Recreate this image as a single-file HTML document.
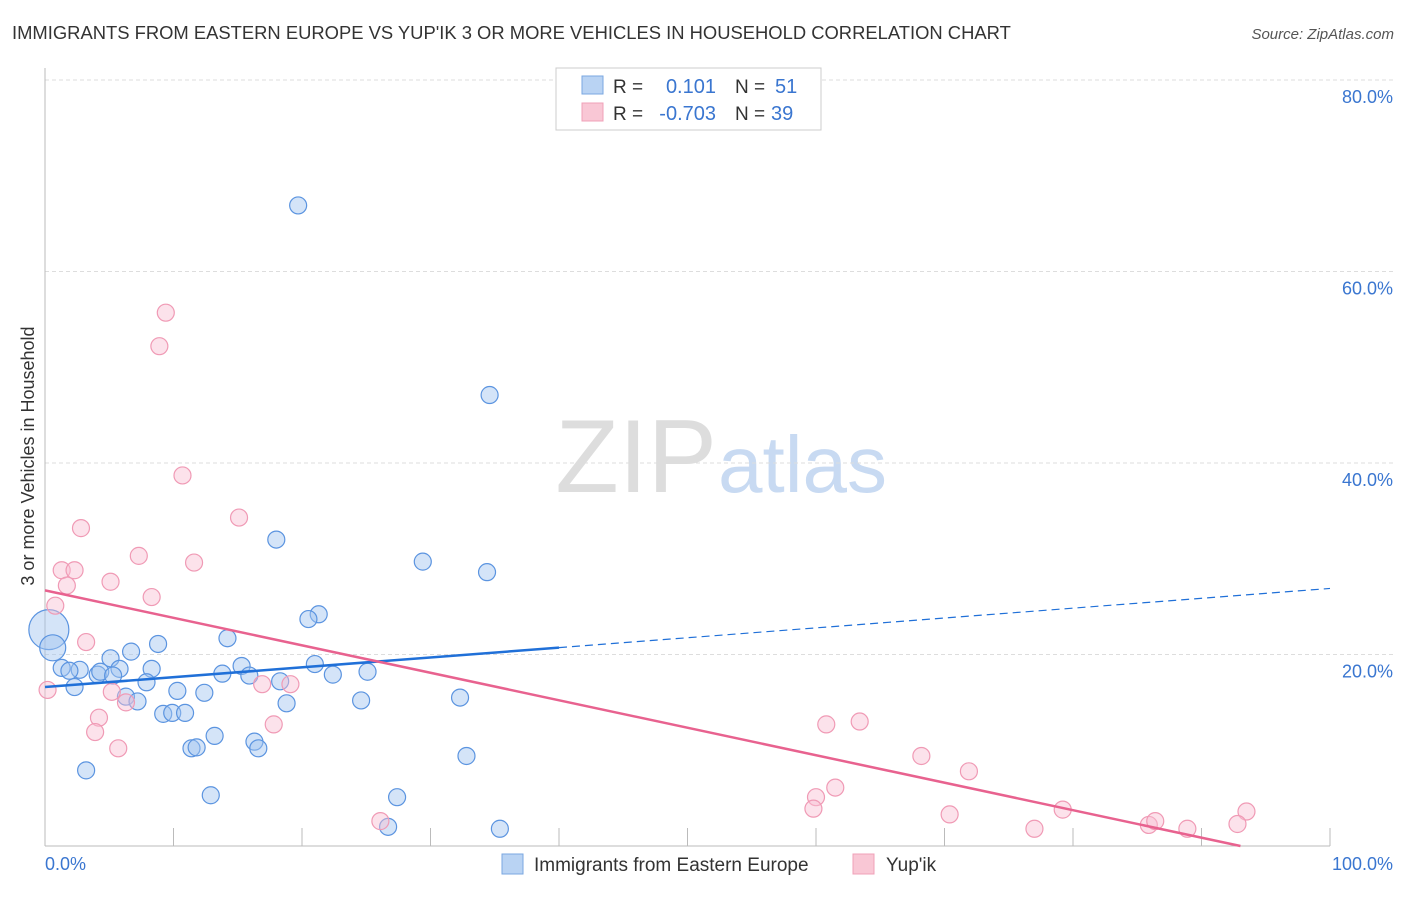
<!DOCTYPE html>
<html><head><meta charset="utf-8"><style>
body{margin:0;background:#fff;font-family:"Liberation Sans",sans-serif;}
svg text{font-family:"Liberation Sans",sans-serif;}
</style></head><body>
<svg id="chart" width="1406" height="892">
<text x="12" y="39" font-size="18.4" fill="#333">IMMIGRANTS FROM EASTERN EUROPE VS YUP'IK 3 OR MORE VEHICLES IN HOUSEHOLD CORRELATION CHART</text>
<text x="1394" y="39" font-size="15" fill="#555" font-style="italic" text-anchor="end">Source: ZipAtlas.com</text>
<text x="717" y="492" font-size="104" fill="#ddd" text-anchor="end" font-family="Liberation Serif">ZIP</text>
<text x="718" y="492" font-size="80" fill="#c8daf2">atlas</text>
<text transform="translate(34,456) rotate(-90)" font-size="18" fill="#333" text-anchor="middle">3 or more Vehicles in Household</text>
<g id="grid"></g><g id="marks"></g><g id="lines"></g>
<g>
<rect x="556" y="68" width="265" height="62" fill="#fff" stroke="#ccc"/>
<rect x="582" y="76" width="21" height="18" fill="#b9d3f3" stroke="#7aa7e0"/>
<rect x="582" y="103" width="21" height="18" fill="#f9c7d5" stroke="#f0a0b8"/>
<text x="613" y="93" font-size="19" fill="#333">R =</text><text x="716" y="93" font-size="20" fill="#3a76d0" text-anchor="end">0.101</text>
<text x="735" y="93" font-size="19" fill="#333">N =</text><text x="775" y="93" font-size="20" fill="#3a76d0">51</text>
<text x="613" y="120" font-size="19" fill="#333">R =</text><text x="716" y="120" font-size="20" fill="#3a76d0" text-anchor="end">-0.703</text>
<text x="735" y="120" font-size="19" fill="#333">N =</text><text x="771" y="120" font-size="20" fill="#3a76d0">39</text>
</g>
<g>
<rect x="502" y="854" width="21" height="20" fill="#b9d3f3" stroke="#7aa7e0"/>
<text x="534" y="871" font-size="19" fill="#333">Immigrants from Eastern Europe</text>
<rect x="853" y="854" width="21" height="20" fill="#f9c7d5" stroke="#f0a0b8"/>
<text x="886" y="871" font-size="19" fill="#333">Yup'ik</text>
</g>
</svg>
<script>
const yTicks=[20,40,60,80];
const yTickLabels=["20.0%","40.0%","60.0%","80.0%"];
const xTickLabels=["0.0%","100.0%"];
const blueX=[19.7,34.6,18.0,29.4,34.4,21.3,20.5,14.2,8.8,6.7,5.1,15.3,8.3,5.8,1.3,2.7,4.1,1.9,15.9,13.8,21.0,25.1,22.4,7.9,18.3,2.3,10.3,12.4,6.3,7.2,18.8,24.6,32.3,9.2,9.9,10.9,13.2,16.3,11.4,11.8,16.6,32.8,3.2,12.9,27.4,26.7,35.4,0.3,0.6,4.3,5.3];
const blueY=[66.9,47.1,32.0,29.7,28.6,24.2,23.7,21.7,21.1,20.3,19.6,18.8,18.5,18.5,18.6,18.4,17.9,18.3,17.8,18.0,19.0,18.2,17.9,17.1,17.2,16.6,16.2,16.0,15.6,15.1,14.9,15.2,15.5,13.8,13.9,13.9,11.5,10.9,10.2,10.3,10.2,9.4,7.9,5.3,5.1,2.0,1.8,22.6,20.7,18.2,17.8];
const blueR=[8.5,8.5,8.5,8.5,8.5,8.5,8.5,8.5,8.5,8.5,8.5,8.5,8.5,8.5,8.5,8.5,8.5,8.5,8.5,8.5,8.5,8.5,8.5,8.5,8.5,8.5,8.5,8.5,8.5,8.5,8.5,8.5,8.5,8.5,8.5,8.5,8.5,8.5,8.5,8.5,8.5,8.5,8.5,8.5,8.5,8.5,8.5,20,13,8.5,8.5];
const pinkX=[9.4,8.9,10.7,15.1,2.8,7.3,11.6,1.3,2.3,5.1,1.7,8.3,0.8,3.2,0.2,5.2,19.1,16.9,6.3,4.2,17.8,3.9,5.7,60.8,63.4,68.2,71.9,61.5,60.0,59.8,26.1,70.4,79.2,77.0,85.9,86.4,88.9,93.5,92.8];
const pinkY=[55.7,52.2,38.7,34.3,33.2,30.3,29.6,28.8,28.8,27.6,27.2,26.0,25.1,21.3,16.3,16.1,16.9,16.9,15.0,13.4,12.7,11.9,10.2,12.7,13.0,9.4,7.8,6.1,5.1,3.9,2.6,3.3,3.8,1.8,2.2,2.6,1.8,3.6,2.3];
const blueTrend=[16.6,26.9];
const pinkTrend=[26.7,-0.287];
const NS="http://www.w3.org/2000/svg";
const X=v=>45+v*12.85, Y=v=>846-v*9.575;
function mk(t,a,p){const e=document.createElementNS(NS,t);for(const k in a)e.setAttribute(k,a[k]);p.appendChild(e);return e;}
const grid=document.getElementById('grid'),marks=document.getElementById('marks'),lines=document.getElementById('lines');
yTicks.forEach((t,i)=>{
 const l=mk('line',{x1:45,x2:1394,y1:Y(t),y2:Y(t),stroke:'#ddd','stroke-dasharray':'4,3'},grid);
 
 
 const tx=mk('text',{x:1393,y:Y(t)+23,'font-size':18,fill:'#3a76d0','text-anchor':'end'},grid);
 tx.textContent=yTickLabels[i];
 
 
});
const ax=mk('line',{x1:45,x2:1330,y1:846,y2:846,stroke:'#bbb'},grid);


const ay=mk('line',{x1:45,x2:45,y1:68,y2:846,stroke:'#bbb'},grid);


for(let i=1;i<=10;i++){const t=mk('line',{x1:X(i*10),x2:X(i*10),y1:828,y2:846,stroke:'#bbb'},grid);
 
 }
const xl0=mk('text',{x:45,y:870,'font-size':18,fill:'#3a76d0'},grid);xl0.textContent=xTickLabels[0];


const xl1=mk('text',{x:1393,y:870,'font-size':18,fill:'#3a76d0','text-anchor':'end'},grid);xl1.textContent=xTickLabels[1];


blueX.forEach((v,i)=>{const c=mk('circle',{cx:X(v),cy:Y(blueY[i]),r:blueR[i],fill:'rgba(160,195,240,0.45)',stroke:'#5b94e0','stroke-width':1.2},marks);
 
 });
pinkX.forEach((v,i)=>{const c=mk('circle',{cx:X(v),cy:Y(pinkY[i]),r:8.5,fill:'rgba(248,190,210,0.45)',stroke:'#f09ab5','stroke-width':1.2},marks);
 
 });
const bAt=x=>blueTrend[0]+(blueTrend[1]-blueTrend[0])*x/100;
const b1=mk('line',{x1:X(0),y1:Y(bAt(0)),x2:X(40),y2:Y(bAt(40)),stroke:'#2070d8','stroke-width':2.5},lines);


const b2=mk('line',{x1:X(40),y1:Y(bAt(40)),x2:X(100),y2:Y(bAt(100)),stroke:'#2070d8','stroke-width':1.2,'stroke-dasharray':'8,5'},lines);


const xe=-pinkTrend[0]/pinkTrend[1];
const p1=mk('line',{x1:X(0),y1:Y(pinkTrend[0]),x2:X(xe),y2:Y(0),stroke:'#e8628f','stroke-width':2.5},lines);


</script>
</body></html>
